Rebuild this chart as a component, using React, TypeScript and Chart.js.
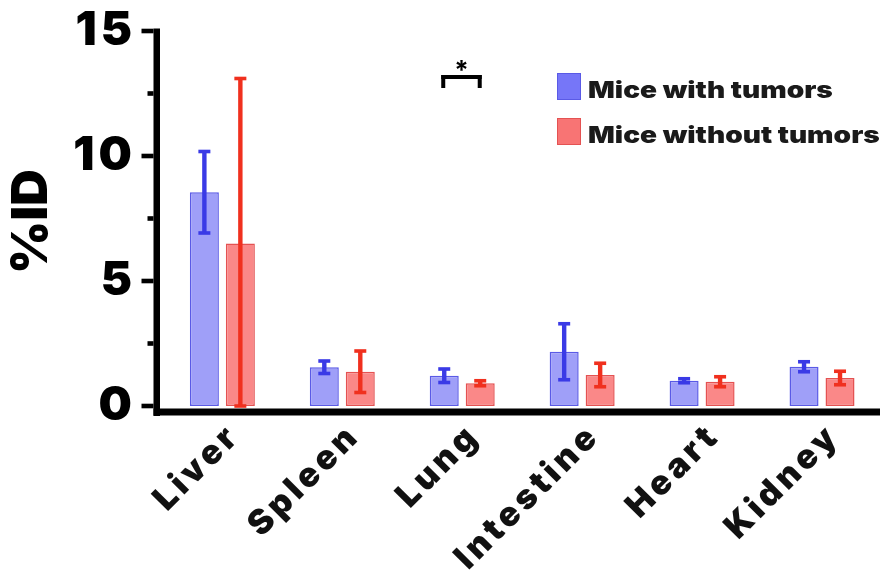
import React, { useEffect, useRef } from "react";
import { Chart, registerables } from "chart.js";

Chart.register(...registerables);

// ---- data ----
const categories = ["Liver", "Spleen", "Lung", "Intestine", "Heart", "Kidney"];
const withTumors = [8.55, 1.55, 1.21, 2.17, 1.01, 1.57];
const withTumorsErr = [1.63, 0.25, 0.27, 1.12, 0.08, 0.2];
const withoutTumors = [6.5, 1.37, 0.91, 1.24, 0.97, 1.12];
const withoutTumorsErr = [6.6, 0.83, 0.1, 0.47, 0.2, 0.27];
const seriesNames = ["Mice with tumors", "Mice without tumors"];
const yMajorTicks = [0, 5, 10, 15];
const yMinorTicks = [2.5, 7.5, 12.5];
const yTitle = "%ID";
const sigCategory = 2; // Lung
const sigLabel = "*";
const sigLevel = 13.24;
const sigLegLevel = 12.72;

const FONT = '"Arial Black", Inter, "Noto Sans", "DejaVu Sans", sans-serif';

const barFill = ["#9f9ff8", "#fa8888"];
const barBorder = ["#5a5ae6", "#e45252"];
const errColor = ["#3a3ae6", "#f0301e"];
const legendFill = ["#7676f8", "#f87474"];

function stretchedText(ctx: any, text: string, x: number, y: number, sx: number) {
  ctx.save();
  ctx.translate(x, y);
  ctx.scale(sx, 1);
  ctx.fillText(text, 0, 0);
  ctx.restore();
}

const customPlugin = {
  id: "prismDecor",
  beforeDraw(chart: any) {
    chart.ctx.letterSpacing = "4px";
  },
  beforeDatasetsDraw(chart: any) {
    const { ctx, chartArea } = chart;
    const ys = chart.scales.y;
    const left = chartArea.left;
    const bottom = chartArea.bottom;
    ctx.save();
    ctx.letterSpacing = "0px";
    ctx.fillStyle = "#000";
    const topPx = ys.getPixelForValue(15);
    // y axis line
    ctx.fillRect(left - 6.5, topPx - 2.5, 6.5, bottom + 10 - (topPx - 2.5));
    // major ticks
    yMajorTicks.forEach((v) => {
      const p = ys.getPixelForValue(v);
      ctx.fillRect(left - 18.5, p - 2.3, 12, 4.6);
    });
    yMinorTicks.forEach((v) => {
      const p = ys.getPixelForValue(v);
      ctx.fillRect(left - 12.5, p - 2.3, 6, 4.6);
    });
    // x axis line
    ctx.fillRect(left - 6.5, bottom + 2.5, chartArea.right - 2 - (left - 6.5), 7);
    // y title
    ctx.translate(32, (chartArea.top + bottom) / 2 + 3);
    ctx.rotate(-Math.PI / 2);
    ctx.font = `900 50px ${FONT}`;
    ctx.textAlign = "center";
    ctx.textBaseline = "middle";
    stretchedText(ctx, yTitle, 0, 0, 1.02);
    ctx.restore();
  },
  afterDatasetsDraw(chart: any) {
    const { ctx } = chart;
    const ys = chart.scales.y;
    const errs = [withTumorsErr, withoutTumorsErr];
    const vals = [withTumors, withoutTumors];
    ctx.save();
    ctx.letterSpacing = "0px";
    [0, 1].forEach((d) => {
      const meta = chart.getDatasetMeta(d);
      meta.data.forEach((bar: any, i: number) => {
        const v = vals[d][i];
        const e = errs[d][i];
        const yt = ys.getPixelForValue(v + e);
        const yb = ys.getPixelForValue(Math.max(0, v - e));
        ctx.fillStyle = errColor[d];
        ctx.fillRect(bar.x - 2.2, yt, 4.4, yb - yt);
        ctx.fillRect(bar.x - 6, yt - 1.8, 12, 3.6);
        ctx.fillRect(bar.x - 6, yb - 1.8, 12, 3.6);
      });
    });
    // significance bracket
    const b0 = chart.getDatasetMeta(0).data[sigCategory];
    const b1 = chart.getDatasetMeta(1).data[sigCategory];
    const yTop = ys.getPixelForValue(sigLevel);
    const yLeg = ys.getPixelForValue(sigLegLevel);
    ctx.fillStyle = "#000";
    const x0 = b0.x - 3;
    const x1 = b1.x + 1.5;
    ctx.fillRect(x0, yTop, x1 - x0, 4);
    ctx.fillRect(x0, yTop, 4, yLeg - yTop);
    ctx.fillRect(x1 - 4, yTop, 4, yLeg - yTop);
    ctx.font = `bold 26px ${FONT}`;
    ctx.textAlign = "center";
    ctx.textBaseline = "alphabetic";
    ctx.fillText(sigLabel, (x0 + x1) / 2, yTop + 4);
    // legend
    const legX = 557;
    const legY = [73, 118];
    ctx.font = `900 23px ${FONT}`;
    ctx.textAlign = "left";
    ctx.textBaseline = "alphabetic";
    seriesNames.forEach((name, k) => {
      ctx.fillStyle = legendFill[k];
      ctx.fillRect(legX, legY[k], 24, 27);
      ctx.strokeStyle = barBorder[k];
      ctx.lineWidth = 1;
      ctx.strokeRect(legX + 0.5, legY[k] + 0.5, 23, 26);
      ctx.fillStyle = "#1a1a1a";
      stretchedText(ctx, name, 588, legY[k] + 25, 1.22);
    });
    ctx.restore();
  },
  afterDraw(chart: any) {
    chart.ctx.letterSpacing = "0px";
  },
};

export default function App() {
  const ref = useRef<HTMLCanvasElement | null>(null);
  useEffect(() => {
    document.body.style.margin = "0";
    const canvas = ref.current!;
    const chart = new Chart(canvas, {
      type: "bar",
      data: {
        datasets: [withTumors, withoutTumors].map((arr, d) => ({
          label: seriesNames[d],
          data: arr.map((v, i) => ({ x: i, y: v })),
          backgroundColor: barFill[d],
          borderColor: barBorder[d],
          borderWidth: 1.5,
          borderSkipped: false,
          barPercentage: 0.806,
          categoryPercentage: 0.6,
        })),
      },
      options: {
        responsive: false,
        animation: false,
        devicePixelRatio: 1,
        layout: { padding: { top: 31, right: 0, left: 0, bottom: 0 } },
        plugins: { legend: { display: false }, tooltip: { enabled: false } },
        scales: {
          x: {
            type: "linear",
            min: -0.52,
            max: 5.5,
            offset: false,
            grid: { display: false, drawTicks: false },
            border: { display: false },
            afterBuildTicks: (s: any) => {
              s.ticks = categories.map((_, i) => ({ value: i }));
            },
            afterFit: (s: any) => {
              s.height = 167;
            },
            ticks: {
              autoSkip: false,
              minRotation: 45,
              maxRotation: 45,
              padding: 10,
              labelOffset: 12,
              color: "#111",
              font: { family: FONT, weight: "900", size: 34 },
              callback: (v: any) => categories[v] ?? "",
            },
          },
          y: {
            min: 0,
            max: 15,
            grid: { display: false, drawTicks: false },
            border: { display: false },
            afterBuildTicks: (s: any) => {
              s.ticks = yMajorTicks.map((v) => ({ value: v }));
            },
            afterFit: (s: any) => {
              s.width = 160;
              s.paddingTop = 0;
              s.paddingBottom = 0;
            },
            ticks: {
              padding: 24,
              color: "#000",
              font: { family: FONT, weight: "900", size: 47 },
            },
          },
        },
      } as any,
      plugins: [customPlugin],
    });
    return () => chart.destroy();
  }, []);
  return (
    <canvas
      ref={ref}
      width={882}
      height={573}
      style={{ display: "block", width: "882px", height: "573px" }}
    />
  );
}
